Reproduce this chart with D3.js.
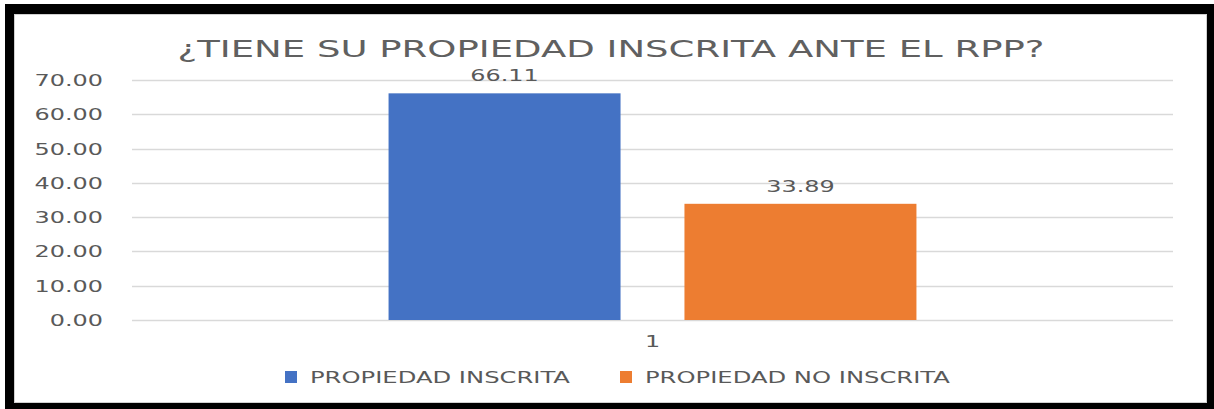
<!DOCTYPE html>
<html><head><meta charset="utf-8">
<script src="https://cdn.jsdelivr.net/npm/d3@7"></script>
<style>body{margin:0;background:#fff}svg{display:block}text{font-family:"DejaVu Sans",sans-serif;fill:#595959}</style>
</head><body>
<script>
const categories = ["1"];
const seriesNames = ["PROPIEDAD INSCRITA", "PROPIEDAD NO INSCRITA"];
const seriesValues = [66.11, 33.89];
const seriesColors = ["#4472C4", "#ED7D31"];
const tickValues = [0, 10, 20, 30, 40, 50, 60, 70];
const title = "¿TIENE SU PROPIEDAD INSCRITA ANTE EL RPP?";

const W = 1214, H = 409, SX = 1.45;
const svg = d3.select("body").append("svg").attr("width", W).attr("height", H);

// frame
svg.append("rect").attr("x",5).attr("y",4).attr("width",1209).attr("height",405).attr("fill","#000");
svg.append("rect").attr("x",14.5).attr("y",14.5).attr("width",1192).attr("height",388).attr("fill","#fff").attr("stroke","#d0d0d0");

function stext(x, y, str, size, anchor, sx) {
  const g = svg.append("g").attr("transform", `translate(${x},${y}) scale(${sx || SX},1)`);
  return g.append("text").attr("font-size", size).attr("text-anchor", anchor || "start").text(str);
}

const y = d3.scaleLinear().domain([0, 70]).range([320, 80]);
const x0 = d3.scaleBand().domain(categories).range([132, 1173]).paddingInner(0).paddingOuter(0.486);
const x1 = d3.scaleBand().domain(seriesNames).range([0, x0.bandwidth()]).paddingInner(0.216).paddingOuter(0);

// gridlines
svg.append("g").selectAll("line").data(tickValues).join("line")
  .attr("x1", 132).attr("x2", 1173)
  .attr("y1", d => Math.round(y(d)) + 0.5).attr("y2", d => Math.round(y(d)) + 0.5)
  .attr("stroke", "#d9d9d9").attr("stroke-width", 1.5);

// y tick labels
tickValues.forEach(v => stext(103, y(v) + 6, v.toFixed(2), 16.5, "end"));

// bars
const data = seriesNames.map((s, i) => ({s, v: seriesValues[i], c: seriesColors[i]}));
svg.append("g").selectAll("rect").data(data).join("rect")
  .attr("x", d => x0("1") + x1(d.s)).attr("y", d => y(d.v))
  .attr("width", x1.bandwidth()).attr("height", d => y(0) - y(d.v))
  .attr("fill", d => d.c);

// data labels
data.forEach(d => stext(x0("1") + x1(d.s) + x1.bandwidth() / 2, y(d.v) - 12, d.v.toFixed(2), 16.5, "middle"));

// category label
stext(x0("1") + x0.bandwidth() / 2, 347, categories[0], 16.5, "middle");

// title
stext(611, 57, title, 23, "middle", 1.61).style("fill", "#606060");

// legend
const legX = [285, 620];
data.forEach((d, i) => {
  svg.append("rect").attr("x", legX[i]).attr("y", 371).attr("width", 12).attr("height", 12).attr("fill", d.c);
  stext(legX[i] + 25, 383, d.s, 16.5, "start", 1.47);
});
</script>
</body></html>
